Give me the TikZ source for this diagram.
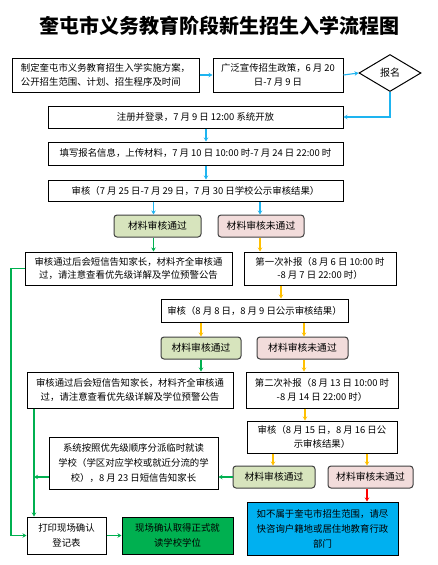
\documentclass[tikz,border=0pt]{standalone}
\usepackage{fontspec}
\setmainfont{Noto Sans CJK SC}
\usetikzlibrary{arrows.meta,shapes.geometric}
\definecolor{arrblue}{HTML}{1EB4F0}
\definecolor{arrgreen}{HTML}{00B050}
\definecolor{arrorange}{HTML}{FFC000}
\definecolor{okfill}{HTML}{D7E4BD}
\definecolor{nofill}{HTML}{F2DCDB}
\definecolor{bluefill}{HTML}{00B0F0}
\definecolor{greenfill}{HTML}{00B050}
\definecolor{rbord}{HTML}{404040}
\tikzset{
  box/.style={draw=black, line width=1pt, fill=white, align=center, inner sep=1pt,
    font=\fontsize{9.4}{13.5}\selectfont},
  tall/.style={font=\fontsize{9.4}{15}\selectfont},
  okbox/.style={draw=rbord, line width=1pt, rounded corners=3pt, fill=okfill, align=center,
    inner sep=1pt, font=\fontsize{9.8}{12}\selectfont, minimum height=22pt},
  nobox/.style={okbox, fill=nofill},
  sz/.style 2 args={minimum width=#1pt, minimum height=#2pt},
  ab/.style={draw=arrblue, line width=1.1pt, -{Stealth[length=4pt,width=4.5pt]}},
  ag/.style={draw=arrgreen, line width=1.1pt, -{Stealth[length=4pt,width=4.5pt]}},
  ao/.style={draw=arrorange, line width=1.1pt, -{Stealth[length=4pt,width=4.5pt]}},
  ar/.style={draw=red, line width=1.1pt, -{Stealth[length=4pt,width=4.5pt]}},
}
\begin{document}
\begin{tikzpicture}[x=1pt, y=-1pt]
\useasboundingbox[fill=white] (0,0) rectangle (437,565);
\node[font=\fontsize{20}{24}\selectfont\bfseries, inner sep=0pt] (title) at (219,26) {奎屯市义务教育阶段新生招生入学流程图};

\node[box, sz={187}{34}, align=left] (b1) at (105.5,75) {制定奎屯市义务教育招生入学实施方案，\\公开招生范围、计划、招生程序及时间};
\node[box, sz={130}{34}] (b2) at (278,75) {广泛宣传招生政策，6 月 20\\日-7 月 9 日};
\node[draw=black, line width=1pt, shape=diamond, shape aspect=1.7, minimum width=62pt, minimum height=37pt, inner sep=0pt, fill=white, font=\fontsize{10}{12}\selectfont] (d) at (390,73) {报名};

\node[box, sz={295}{22}] (b3) at (195.5,117) {注册并登录，7 月 9 日 12:00 系统开放};
\node[box, sz={295}{23}] (b4) at (195.5,153.5) {填写报名信息，上传材料，7 月 10 日 10:00 时-7 月 24 日 22:00 时};
\node[box, sz={295}{21}] (b5) at (195.5,190.5) {审核（7 月 25 日-7 月 29 日，7 月 30 日学校公示审核结果）};

\node[okbox, minimum width=87pt] (g1) at (157.5,226) {材料审核通过};
\node[nobox, minimum width=86pt] (p1) at (261,226) {材料审核未通过};

\node[box, sz={207}{33}] (b6) at (128.5,268.5) {审核通过后会短信告知家长，材料齐全审核通\\过，请注意查看优先级详解及学位预警公告};
\node[box, sz={152}{33}] (b7) at (320,268.5) {第一次补报（8 月 6 日 10:00 时\\-8 月 7 日 22:00 时）};
\node[box, sz={187}{23}] (b8) at (254.5,310.5) {审核（8 月 8 日，8 月 9 日公示审核结果）};

\node[okbox, minimum width=80pt] (g2) at (201,348) {材料审核通过};
\node[nobox, minimum width=91pt] (p2) at (302.5,348) {材料审核未通过};

\node[box, sz={206}{36}] (b9) at (130,390) {审核通过后会短信告知家长，材料齐全审核通\\过，请注意查看优先级详解及学位预警公告};
\node[box, sz={152}{36}] (b10) at (322,390) {第二次补报（8 月 13 日 10:00 时\\-8 月 14 日 22:00 时）};
\node[box, sz={150}{32}] (b11) at (322,437) {审核（8 月 15 日，8 月 16 日公\\示审核结果）};

\node[box, tall, sz={169}{52}] (b12) at (133.5,463) {系统按照优先级顺序分派临时就读\\学校（学区对应学校或就近分流的学\\校），8 月 23 日短信告知家长};
\node[okbox, minimum width=82pt] (g3) at (274,477) {材料审核通过};
\node[nobox, minimum width=85pt] (p3) at (370.5,477) {材料审核未通过};

\node[box, tall, sz={151}{53}, fill=bluefill] (bl) at (322.5,528.5) {如不属于奎屯市招生范围，请尽\\快咨询户籍地或居住地教育行政\\部门};
\node[box, tall, sz={79}{37}] (b13) at (66.5,535.5) {打印现场确认\\登记表};
\node[box, tall, sz={111}{37}, fill=greenfill] (gr) at (177.5,535.5) {现场确认取得正式就\\读学校学位};

% blue arrows
\draw[ab] (b1.east) -- (b2.west);
\draw[ab] (b2.east) -- (d.west);
\draw[ab] (d.south) |- (b3.east);
\draw[ab] ([xshift=10.5pt]b3.south) -- ([xshift=10.5pt]b4.north);
\draw[ab] ([xshift=10.5pt]b4.south) -- ([xshift=10.5pt]b5.north);
\draw[ab] ([xshift=-4pt]g1.north |- b5.south) -- ([xshift=-4pt]g1.north);
\draw[ab] ([xshift=-1pt]p1.north |- b5.south) -- ([xshift=-1pt]p1.north);

% green / orange
\draw[ag] ([xshift=-4pt]g1.south) -- ([xshift=-4pt]g1.south |- b6.north);
\draw[ao] ([xshift=-1pt]p1.south) -- ([xshift=-1pt]p1.south |- b7.north);
\draw[ao] ([xshift=-39pt]b7.south) -- ([xshift=-39pt]b7.south |- b8.north);
\draw[ao] (g2.north |- b8.south) -- (g2.north);
\draw[ao] ([xshift=1.5pt]p2.north |- b8.south) -- ([xshift=1.5pt]p2.north);
\draw[ag] (g2.south) -- (g2.south |- b9.north);
\draw[ao] ([xshift=1.5pt]p2.south) -- ([xshift=1.5pt]p2.south |- b10.north);
\draw[ao] ([xshift=-17pt]b10.south) -- ([xshift=-17pt]b10.south |- b11.north);
\draw[ao] ([xshift=-1pt]g3.north |- b11.south) -- ([xshift=-1pt]g3.north);
\draw[ao] ([xshift=-3.5pt]p3.north |- b11.south) -- ([xshift=-3.5pt]p3.north);
\draw[ar] ([xshift=-3.5pt]p3.south) -- ([xshift=-3.5pt]p3.south |- bl.north);
\draw[ag] (g3.west) -- (b12.east |- g3.west);

% left green lines
\coordinate (lx) at (11,0);
\coordinate (vx) at (34,0);
\draw[ag] (b6.west) -| (lx |- b13.west) -- (b13.west);
\draw[ag] (vx |- b9.south) -- (vx |- b13.north);
\draw[ag] (b12.west |- g3.west) -- (vx |- g3.west);
\draw[ag] (b13.east) -- (gr.west);
\end{tikzpicture}
\end{document}
